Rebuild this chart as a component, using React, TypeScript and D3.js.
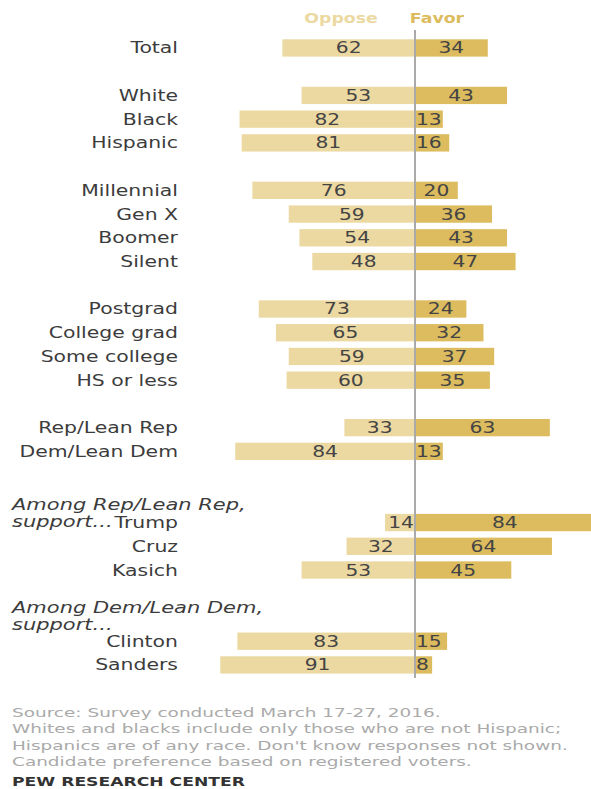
import React from "react";
import * as d3 from "d3";

// Row labels, top to bottom; "" marks a gap between groups
const categories = [
  "Total", "",
  "White", "Black", "Hispanic", "",
  "Millennial", "Gen X", "Boomer", "Silent", "",
  "Postgrad", "College grad", "Some college", "HS or less", "",
  "Rep/Lean Rep", "Dem/Lean Dem", "", "",
  "Trump", "Cruz", "Kasich", "", "",
  "Clinton", "Sanders",
];
const oppose = [62, 0, 53, 82, 81, 0, 76, 59, 54, 48, 0, 73, 65, 59, 60, 0, 33, 84, 0, 0, 14, 32, 53, 0, 0, 83, 91];
const favor = [34, 0, 43, 13, 16, 0, 20, 36, 43, 47, 0, 24, 32, 37, 35, 0, 63, 13, 0, 0, 84, 64, 45, 0, 0, 15, 8];

const footnotes = [
  "Source: Survey conducted March 17-27, 2016.",
  "Whites and blacks include only those who are not Hispanic;",
  "Hispanics are of any race. Don't know responses not shown.",
  "Candidate preference based on registered voters.",
];

const W = 591;
const H = 789;
const OPPOSE = "#ecd9a2";
const FAVOR = "#dcbc5e";
const FONT = "DejaVu Sans, sans-serif";

// horizontally stretched text, like the wide face in the original
const T: React.FC<{
  x: number;
  y: number;
  sx: number;
  anchor?: string;
  size: number;
  fill: string;
  bold?: boolean;
  italic?: boolean;
  children: React.ReactNode;
}> = ({ x, y, sx, anchor = "start", size, fill, bold, italic, children }) => (
  <text
    transform={`translate(${x},${y}) scale(${sx},1)`}
    textAnchor={anchor}
    fontFamily={FONT}
    fontSize={size}
    fontWeight={bold ? "bold" : "normal"}
    fontStyle={italic ? "italic" : "normal"}
    fill={fill}
  >
    {children}
  </text>
);

const App: React.FC = () => {
  const x = d3.scaleLinear().domain([-100, 100]).range([415 - 214, 415 + 214]);
  const y = d3
    .scaleBand()
    .domain(categories.map((c, i) => `${i}`))
    .range([39.3, 673.6])
    .paddingInner(0.27)
    .paddingOuter(0);
  const bh = y.bandwidth();
  const rows = categories
    .map((c, i) => ({ c, i, o: oppose[i], f: favor[i] }))
    .filter((d) => d.c !== "");

  return (
    <svg width={W} height={H} style={{ position: "absolute", left: 0, top: 0, background: "#fff" }}>
      <T x={341} y={23} sx={1.24} anchor="middle" size={14} bold fill={OPPOSE}>Oppose</T>
      <T x={437} y={23} sx={1.24} anchor="middle" size={14} bold fill={FAVOR}>Favor</T>
      {rows.map((d) => {
        const y0 = y(`${d.i}`) || 0;
        const cy = y0 + bh / 2 + 5.5;
        return (
          <g key={d.i}>
            <rect x={x(-d.o)} y={y0} width={x(0) - x(-d.o)} height={bh} fill={OPPOSE} />
            <rect x={x(0)} y={y0} width={x(d.f) - x(0)} height={bh} fill={FAVOR} />
            <T x={178} y={cy} sx={1.36} anchor="end" size={15} fill="#3c3c3c">{d.c}</T>
            <T
              x={d.o < 17 ? x(0) - 1 : (x(-d.o) + x(0)) / 2}
              y={cy}
              sx={1.35}
              anchor={d.o < 17 ? "end" : "middle"}
              size={15}
              fill="#444"
            >{d.o}</T>
            <T
              x={d.f < 17 ? x(0) + 1 : (x(0) + x(d.f)) / 2}
              y={cy}
              sx={1.35}
              anchor={d.f < 17 ? "start" : "middle"}
              size={15}
              fill="#444"
            >{d.f}</T>
          </g>
        );
      })}
      <line x1={x(0)} x2={x(0)} y1={30} y2={678} stroke="#aaa" strokeWidth={2} />
      <T x={12} y={510} sx={1.4} size={15} italic fill="#3c3c3c">Among Rep/Lean Rep,</T>
      <T x={12} y={527} sx={1.4} size={15} italic fill="#3c3c3c">support...</T>
      <T x={12} y={613} sx={1.4} size={15} italic fill="#3c3c3c">Among Dem/Lean Dem,</T>
      <T x={12} y={630} sx={1.4} size={15} italic fill="#3c3c3c">support...</T>
      {footnotes.map((t, i) => (
        <T key={i} x={12} y={717 + i * 16.3} sx={1.42} size={13} fill="#aaa">{t}</T>
      ))}
      <T x={12} y={786} sx={1.32} size={13} bold fill="#333">PEW RESEARCH CENTER</T>
    </svg>
  );
};

export default App;
